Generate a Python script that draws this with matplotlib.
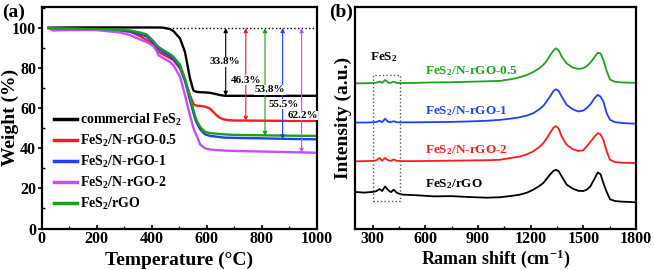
import matplotlib
matplotlib.use("Agg")
import matplotlib.pyplot as plt
from matplotlib.ticker import MultipleLocator

plt.rcParams['font.family'] = ['Liberation Serif', 'DejaVu Serif']
plt.rcParams['font.weight'] = 'bold'
plt.rcParams['mathtext.fontset'] = 'custom'
plt.rcParams['mathtext.rm'] = 'Liberation Serif:bold'
plt.rcParams['mathtext.bf'] = 'Liberation Serif:bold'
plt.rcParams['mathtext.it'] = 'Liberation Serif:bold:italic'
plt.rcParams['mathtext.default'] = 'bf'

# ---------------- (a) TGA data ----------------
temp = [25, 40, 100, 200, 285, 321, 357, 382, 406, 418, 424, 442, 467, 479, 503,
        521, 539, 551, 557, 563, 576, 594, 612, 636, 648, 661, 673, 685, 700, 800, 900, 1000]
w_commercial = [100.2, 100.2, 100.3, 100.3, 100.3, 100.3, 100.3, 100.3, 100.3, 100.3, 100.3, 100.2,
                99.5, 98.5, 94.8, 88.0, 75.0, 69.0, 68.5, 68.2, 68.0, 67.9, 67.7, 67.0, 66.6, 66.3,
                66.2, 66.2, 66.2, 66.2, 66.2, 66.2]
w_nrgo05 = [100.0, 99.8, 99.6, 99.3, 98.8, 98.2, 96.0, 94.0, 91.5, 89.5, 88.2, 86.8, 85.0, 84.0, 79.8,
            74.0, 66.5, 62.3, 61.6, 61.3, 61.2, 60.8, 59.8, 56.5, 55.2, 54.5, 54.2, 54.0, 53.9, 53.8, 53.7, 53.7]
w_nrgo1 = [100.0, 99.8, 99.6, 99.4, 98.8, 98.3, 97.0, 95.8, 92.5, 90.7, 89.8, 88.0, 86.0, 84.5, 80.5,
           73.5, 64.0, 58.0, 55.0, 52.8, 49.5, 47.0, 46.2, 45.8, 45.6, 45.4, 45.3, 45.3, 45.2, 45.0, 44.7, 44.5]
w_nrgo2 = [100.0, 98.8, 99.0, 99.0, 97.8, 96.5, 94.3, 93.0, 91.0, 88.5, 86.5, 85.0, 83.0, 81.5, 75.7,
           66.5, 56.5, 50.5, 48.2, 46.5, 42.0, 40.0, 39.4, 39.1, 39.0, 38.9, 38.8, 38.8, 38.7, 38.4, 38.1, 37.8]
w_rgo = [100.0, 99.8, 99.7, 99.5, 99.2, 98.8, 97.8, 96.8, 93.5, 91.5, 90.7, 89.0, 87.0, 85.7, 81.7,
         74.8, 65.7, 59.5, 56.5, 54.0, 50.7, 48.2, 47.6, 47.3, 47.1, 47.0, 46.9, 46.8, 46.7, 46.5, 46.3, 46.2]

tga_labels = ['commercial FeS$_2$', 'FeS$_2$/N-rGO-0.5', 'FeS$_2$/N-rGO-1', 'FeS$_2$/N-rGO-2', 'FeS$_2$/rGO']
tga_colors = ['#000000', '#ff1a1a', '#1f3fff', '#c64dff', '#1a9f1a']

# weight-loss annotations
loss_temps = [669, 742, 812, 876, 945]
loss_ends = [66.2, 53.7, 46.2, 44.5, 37.8]
loss_text = ['33.8%', '46.3%', '53.8%', '55.5%', '62.2%']
loss_colors = ['#000000', '#ff1a1a', '#1a9f1a', '#1f3fff', '#c64dff']
loss_text_pos = [(667, 83.1), (745, 74.0), (830, 69.3), (879, 62.0), (949, 56.4)]

# ---------------- (b) Raman data ----------------
shift = [200, 250, 300, 320, 340, 355, 371, 390, 405, 420, 440, 470, 550, 650, 750, 850, 950, 1026,
         1100, 1140, 1180, 1215, 1250, 1272, 1290, 1310, 1330, 1344, 1360, 1377, 1405, 1440, 1471,
         1500, 1519, 1540, 1564, 1582, 1598, 1614, 1633, 1652, 1680, 1720, 1760, 1800]
r_nrgo05 = [65.5, 65.5, 65.6, 65.8, 66.3, 65.7, 67.0, 65.8, 65.7, 66.2, 65.6, 65.6, 65.7, 65.9, 66.0,
            66.2, 66.4, 66.6, 67.5, 68.3, 69.3, 70.6, 72.3, 73.8, 75.5, 78.0, 80.3, 81.3, 80.3, 77.5,
            74.5, 72.6, 72.0, 72.3, 73.2, 74.8, 77.3, 79.3, 79.0, 76.0, 71.0, 67.2, 66.2, 65.9, 65.8, 65.7]
r_nrgo1 = [47.8, 47.8, 47.9, 48.0, 48.6, 48.0, 49.5, 48.1, 48.0, 48.4, 47.9, 47.9, 47.9, 48.0, 48.1,
           48.3, 48.6, 49.0, 49.7, 50.2, 51.0, 52.0, 53.8, 55.3, 57.2, 59.5, 62.0, 62.8, 62.0, 59.5,
           55.8, 53.8, 52.8, 53.2, 54.3, 56.0, 58.8, 60.3, 59.5, 57.3, 52.0, 49.0, 48.0, 47.6, 47.4, 47.3]
r_nrgo2 = [30.3, 30.4, 30.5, 30.7, 31.8, 30.6, 31.8, 30.7, 30.5, 31.2, 30.5, 30.4, 30.4, 30.5, 30.6,
           30.7, 30.8, 31.0, 32.0, 32.5, 33.5, 34.8, 36.8, 38.5, 40.5, 43.0, 45.5, 46.2, 45.0, 41.5,
           37.8, 35.8, 35.0, 35.3, 37.0, 39.0, 41.5, 43.0, 42.5, 40.0, 34.8, 31.0, 30.0, 29.7, 29.6, 29.5]
r_rgo = [16.5, 16.2, 16.5, 16.8, 17.8, 16.9, 19.0, 17.2, 16.4, 17.5, 16.0, 15.3, 15.0, 14.5, 14.6,
         14.2, 13.9, 14.1, 14.8, 15.3, 16.2, 17.5, 19.2, 20.5, 22.3, 24.3, 26.0, 26.5, 25.8, 23.5,
         19.8, 18.0, 17.0, 16.9, 17.5, 19.0, 22.5, 25.3, 24.5, 20.5, 16.5, 13.2, 12.4, 12.1, 12.0, 11.8]
raman_labels = ['FeS$_2$/N-rGO-0.5', 'FeS$_2$/N-rGO-1', 'FeS$_2$/N-rGO-2', 'FeS$_2$/rGO']
raman_colors = ['#1fa31f', '#1f3fff', '#ff1a1a', '#000000']
raman_label_pos = [(599, 70.8), (599, 53.1), (599, 35.2), (599, 20.2)]

fig = plt.figure(figsize=(6.54, 2.70), dpi=100)
ax1 = fig.add_axes([0.0638, 0.1537, 0.4205, 0.821])
ax2 = fig.add_axes([0.5428, 0.1537, 0.4297, 0.821])

# ---- panel (a)
series = [w_commercial, w_nrgo05, w_nrgo1, w_nrgo2, w_rgo]
for ys, lab, c in zip(series, tga_labels, tga_colors):
    ax1.plot(temp, ys, color=c, lw=1.7, label=lab)
ax1.plot([450, 1000], [100, 100], color='black', lw=1.0, ls=':')
for t, e, c in zip(loss_temps, loss_ends, loss_colors):
    ax1.annotate('', xy=(t, e), xytext=(t, 100),
                 arrowprops=dict(arrowstyle='<|-|>', color=c, lw=0.8,
                                 mutation_scale=6, shrinkA=0, shrinkB=0))
for (tx, ty), s in zip(loss_text_pos, loss_text):
    ax1.text(tx, ty, s, ha='center', va='center', fontsize=8, fontweight='bold',
             bbox=dict(facecolor='white', edgecolor='none', pad=0.3), clip_on=False, zorder=5)
ax1.set_xlim(0, 1000)
ax1.set_ylim(0, 110.6)
ax1.set_xticks([0, 200, 400, 600, 800, 1000])
ax1.set_yticks([0, 20, 40, 60, 80, 100])
ax1.xaxis.set_minor_locator(MultipleLocator(100))
ax1.yaxis.set_minor_locator(MultipleLocator(10))
ax1.tick_params(axis='x', which='major', direction='in', length=3, width=1.2, labelsize=11.5, pad=2)
ax1.tick_params(axis='x', which='minor', direction='in', length=2, width=1)
ax1.tick_params(axis='y', which='major', direction='out', length=3, width=1.2, labelsize=11.5, pad=1)
ax1.tick_params(axis='y', which='minor', direction='in', length=2, width=1)
ax1.set_xlabel('Temperature (°C)', fontsize=14, fontweight='bold', labelpad=3)
ax1.set_ylabel('Weight (%)', fontsize=14, fontweight='bold')
ax1.yaxis.set_label_coords(-0.113, 0.5)
ax1.yaxis.label.set_va('center')
leg = ax1.legend(loc='upper left', bbox_to_anchor=(0.045, 0.525), frameon=False, fontsize=10,
                 handlelength=1.65, handletextpad=0.25, labelspacing=0.35, borderaxespad=0,
                 borderpad=0)
for line in leg.get_lines():
    line.set_linewidth(2.5)
for sp in ax1.spines.values():
    sp.set_linewidth(1.6)

# ---- panel (b)
rseries = [r_nrgo05, r_nrgo1, r_nrgo2, r_rgo]
for ys, c in zip(rseries, raman_colors):
    ax2.plot(shift, ys, color=c, lw=1.3)
for (px, py), s, c in zip(raman_label_pos, raman_labels, raman_colors):
    ax2.text(px, py, s, color=c, ha='left', va='center', fontsize=9.5, fontweight='bold')
ax2.text(365, 77.5, 'FeS$_2$', color='black', ha='center', va='center', fontsize=9.5, fontweight='bold')
ax2.plot([300.6, 456, 456, 300.6, 300.6], [12.3, 12.3, 69.3, 69.3, 12.3],
         color='#555555', lw=1.0, ls=':')
ax2.set_xlim(200, 1800)
ax2.set_ylim(0, 100)
ax2.set_xticks([300, 600, 900, 1200, 1500, 1800])
ax2.xaxis.set_minor_locator(MultipleLocator(150))
ax2.set_yticks([])
ax2.tick_params(axis='x', which='major', direction='in', length=3, width=1.2, labelsize=11.5, pad=2)
ax2.tick_params(axis='x', which='minor', direction='in', length=2, width=1)
ax2.set_xlabel('Raman shift (cm$^{-1}$)', fontsize=13, fontweight='bold', labelpad=0)
ax2.set_ylabel('Intensity (a.u.)', fontsize=14, fontweight='bold')
ax2.yaxis.set_label_coords(-0.043, 0.5)
ax2.yaxis.label.set_va('center')
for sp in ax2.spines.values():
    sp.set_linewidth(1.6)

fig.text(0.003, 0.985, '(a)', fontsize=14, fontweight='bold', ha='left', va='top')
fig.text(0.503, 0.985, '(b)', fontsize=14, fontweight='bold', ha='left', va='top')

fig.savefig('out.png', dpi=100)
